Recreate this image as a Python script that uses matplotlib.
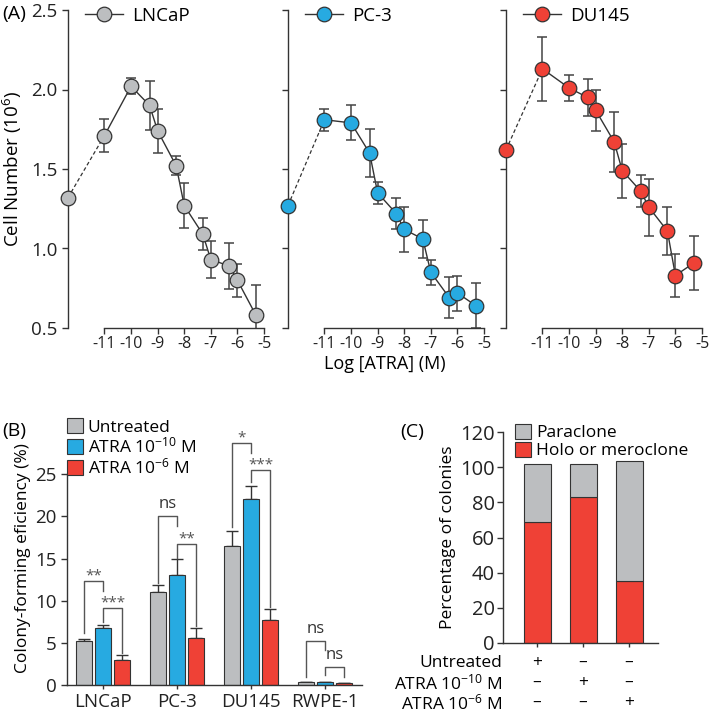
import matplotlib
matplotlib.use('Agg')
import matplotlib.pyplot as plt
from matplotlib.patches import Patch
from matplotlib.lines import Line2D
import numpy as np

plt.rcParams['font.family'] = ['Open Sans', 'DejaVu Sans']
plt.rcParams['mathtext.fontset'] = 'custom'
plt.rcParams['mathtext.rm'] = 'Open Sans'
plt.rcParams['mathtext.default'] = 'regular'
plt.rcParams['axes.unicode_minus'] = False

DARK = '#333333'
GRAY = '#bcbec0'
BLUE = '#27aae1'
RED = '#ef4136'

# ---- panel A data: ATRA dose response ----
conc = [1e-11, 1e-10, 5e-10, 1e-9, 5e-9, 1e-8, 5e-8, 1e-7, 5e-7, 1e-6, 5e-6]
lines_a = ['LNCaP', 'PC-3', 'DU145']
colors_a = [GRAY, BLUE, RED]
ctrl_a = [1.32, 1.27, 1.62]
vals_lncap = [1.71, 2.02, 1.90, 1.74, 1.52, 1.27, 1.09, 0.93, 0.89, 0.80, 0.58]
err_lncap = [0.105, 0.05, 0.155, 0.14, 0.06, 0.14, 0.10, 0.115, 0.145, 0.105, 0.19]
vals_pc3 = [1.81, 1.79, 1.60, 1.35, 1.22, 1.12, 1.06, 0.85, 0.69, 0.72, 0.64]
err_pc3 = [0.07, 0.11, 0.15, 0.07, 0.10, 0.14, 0.12, 0.08, 0.13, 0.11, 0.14]
vals_du145 = [2.13, 2.01, 1.95, 1.87, 1.67, 1.49, 1.36, 1.26, 1.11, 0.83, 0.91]
err_du145 = [0.20, 0.08, 0.115, 0.13, 0.19, 0.17, 0.10, 0.18, 0.15, 0.135, 0.17]

# ---- panel B data: colony forming efficiency ----
cells_b = ['LNCaP', 'PC-3', 'DU145', 'RWPE-1']
treat_b = ['Untreated', 'ATRA 10$^{-10}$ M', 'ATRA 10$^{-6}$ M']
cfe_untreated = [5.2, 11.0, 16.5, 0.3]
cfe_atra10 = [6.8, 13.1, 22.0, 0.35]
cfe_atra6 = [3.0, 5.6, 7.7, 0.2]
sd_untreated = [0.3, 0.8, 1.8, 0.0]
sd_atra10 = [0.35, 1.8, 1.6, 0.0]
sd_atra6 = [0.6, 1.1, 1.3, 0.0]
# (group, bar i, bar j, height, leg i bottom, leg j bottom, label)
brackets = [
    (0, 0, 1, 12.3, 6.2, 11.1, '**'), (0, 1, 2, 9.1, 7.5, 3.8, '***'),
    (1, 0, 1, 20.0, 12.1, 18.8, 'ns'), (1, 1, 2, 16.7, 15.1, 7.0, '**'),
    (2, 0, 1, 28.7, 18.7, 27.5, '*'), (2, 1, 2, 25.5, 24.1, 9.3, '***'),
    (3, 0, 1, 5.25, 1.0, 4.15, 'ns'), (3, 1, 2, 2.1, 1.2, 1.0, 'ns'),
]

# ---- panel C data: clone types ----
holo_mero = [69, 83, 35.5]
paraclone = [33, 19, 68]
table_rows = ['Untreated', 'ATRA 10$^{-10}$ M', 'ATRA 10$^{-6}$ M']
table_marks = [['+', '–', '–'], ['–', '+', '–'], ['–', '–', '+']]

W, H = 709, 714
fig = plt.figure(figsize=(W / 100, H / 100), dpi=100)


def add_ax(left, top, right, bottom):
    return fig.add_axes([left / W, 1 - bottom / H, (right - left) / W, (bottom - top) / H])


def style(ax):
    for s in ['top', 'right']:
        ax.spines[s].set_visible(False)
    for s in ['left', 'bottom']:
        ax.spines[s].set_color(DARK)
        ax.spines[s].set_linewidth(1.0)
    ax.tick_params(direction='out', length=4, width=1, color=DARK, labelcolor='#222222')


# ================= panel A =================
XL = -12.37
logc = np.log10(conc)
all_vals = [vals_lncap, vals_pc3, vals_du145]
all_errs = [err_lncap, err_pc3, err_du145]
for k, left in enumerate([68, 288, 506]):
    ax = add_ax(left, 10, left + 196, 328)
    style(ax)
    v = all_vals[k]
    e = all_errs[k]
    c = colors_a[k]
    ax.plot([XL, logc[0]], [ctrl_a[k], v[0]], ls=(0, (3, 2)), color=DARK, lw=0.9, zorder=1)
    ax.plot(logc, v, color=DARK, lw=1.0, zorder=1)
    ax.errorbar(logc, v, yerr=e, fmt='none', ecolor='#444444', elinewidth=1.1,
                capsize=3.4, capthick=1.1, zorder=2)
    ax.plot(np.r_[XL, logc], np.r_[ctrl_a[k], v], 'o', ms=10.5, mfc=c, mec=DARK,
            mew=0.9, zorder=3, clip_on=False)
    ax.set_xlim(XL, -5)
    ax.set_ylim(0.5, 2.5)
    ax.spines['left'].set_bounds(0.5, 2.5)
    ax.spines['bottom'].set_bounds(-11, -5)
    ax.set_xticks(range(-11, -4))
    ax.set_xticklabels([str(t) for t in range(-11, -4)], fontsize=11.5)
    ax.set_yticks([0.5, 1.0, 1.5, 2.0, 2.5])
    ax.tick_params(axis='x', pad=2)
    if k == 0:
        ax.set_yticklabels(['0.5', '1.0', '1.5', '2.0', '2.5'], fontsize=13.5)
        ax.set_ylabel('Cell Number (10$^{6}$)', fontsize=13.5, labelpad=5)
    else:
        ax.set_yticklabels([])
    h = Line2D([], [], color=DARK, lw=1.0, marker='o', ms=10.5, mfc=c, mec=DARK, mew=0.9)
    ax.legend([h], [lines_a[k]], loc='upper left', bbox_to_anchor=(17 / 196, 1.01),
              frameon=False, fontsize=13.5, handlelength=2.0, handletextpad=0.5,
              borderpad=0, borderaxespad=0)

fig.text(2 / W, 1 - 14 / H, '(A)', fontsize=14, ha='left', va='center')
fig.text(385 / W, 1 - 364 / H, 'Log [ATRA] (M)', fontsize=13, ha='center', va='center')

# ================= panel B =================
axb = add_ax(67, 432, 362, 685)
style(axb)
xg = np.arange(len(cells_b))
bw = 0.217
off = 0.257
b_vals = [cfe_untreated, cfe_atra10, cfe_atra6]
b_sds = [sd_untreated, sd_atra10, sd_atra6]
for i in range(3):
    xs = xg + (i - 1) * off
    axb.bar(xs, b_vals[i], width=bw, color=colors_a[i], edgecolor=DARK, lw=0.8,
            label=treat_b[i], zorder=2)
    axb.errorbar(xs, b_vals[i], yerr=[np.zeros(4), b_sds[i]], fmt='none', ecolor=DARK,
                 elinewidth=1.0, capsize=4, capthick=1.0, zorder=1)
for g, i, j, hgt, bi, bj, lab in brackets:
    xi = g + (i - 1) * off
    xj = g + (j - 1) * off
    axb.plot([xi, xi, xj, xj], [bi, hgt, hgt, bj], color='#555555', lw=1.0, zorder=3,
             clip_on=False)
    if lab == 'ns':
        axb.text((xi + xj) / 2, hgt + 0.5, lab, ha='center', va='bottom', fontsize=12,
                 color='#333333')
    else:
        axb.text((xi + xj) / 2, hgt - 0.3, lab, ha='center', va='bottom', fontsize=11,
                 color='#555555')
axb.set_xlim(-0.49, 3.5)
axb.set_ylim(0, 30)
axb.spines['left'].set_bounds(0, 25)
axb.set_yticks([0, 5, 10, 15, 20, 25])
axb.tick_params(axis='y', labelsize=13.5)
axb.set_xticks(xg)
axb.set_xticklabels(cells_b, fontsize=13.5)
axb.tick_params(axis='x', length=3, pad=3)
axb.set_ylabel('Colony-forming eficiency (%)', fontsize=12.5, labelpad=3)
handles_b = [Patch(facecolor=c, edgecolor=DARK, lw=0.8) for c in colors_a]
axb.legend(handles_b, treat_b, loc='upper left', bbox_to_anchor=(0.0, 1.055),
           frameon=False, fontsize=12.5, handlelength=0.95, handleheight=0.95,
           handletextpad=0.25, labelspacing=0.05, borderpad=0, borderaxespad=0)
fig.text(2 / W, 1 - 431 / H, '(B)', fontsize=14, ha='left', va='center')

# ================= panel C =================
axc = add_ax(503, 432, 658, 643)
style(axc)
xc = np.arange(3)
axc.bar(xc, holo_mero, width=0.587, color=RED, edgecolor=DARK, lw=0.8,
        label='Holo or meroclone')
axc.bar(xc, paraclone, bottom=holo_mero, width=0.587, color=GRAY, edgecolor=DARK,
        lw=0.8, label='Paraclone')
axc.set_xlim(-0.74, 2.63)
axc.set_ylim(0, 120)
axc.set_yticks(range(0, 121, 20))
axc.tick_params(axis='y', labelsize=14.5, pad=2)
axc.set_xticks(xc)
axc.set_xticklabels([])
axc.tick_params(axis='x', length=3)
axc.set_ylabel('Percentage of colonies', fontsize=12.5, labelpad=3)
hc = [Patch(facecolor=GRAY, edgecolor=DARK, lw=0.8), Patch(facecolor=RED, edgecolor=DARK, lw=0.8)]
axc.legend(hc, ['Paraclone', 'Holo or meroclone'], loc='upper left',
           bbox_to_anchor=(12 / 155, 1.04), frameon=False, fontsize=12.5,
           handlelength=0.95, handleheight=0.95, handletextpad=0.25, labelspacing=0.05,
           borderpad=0, borderaxespad=0)
fig.text(400 / W, 1 - 432 / H, '(C)', fontsize=14, ha='left', va='center')

trans = axc.get_xaxis_transform()
for r, lab in enumerate(table_rows):
    yy = -(663 + 20 * r - 643) / 211
    axc.text(-0.005, yy, lab, transform=axc.transAxes, ha='right', va='center', fontsize=12.5)
    for c in range(3):
        axc.text(xc[c], yy, table_marks[r][c], transform=trans, ha='center', va='center',
                 fontsize=12.5)

fig.savefig('out.png', dpi=100)
